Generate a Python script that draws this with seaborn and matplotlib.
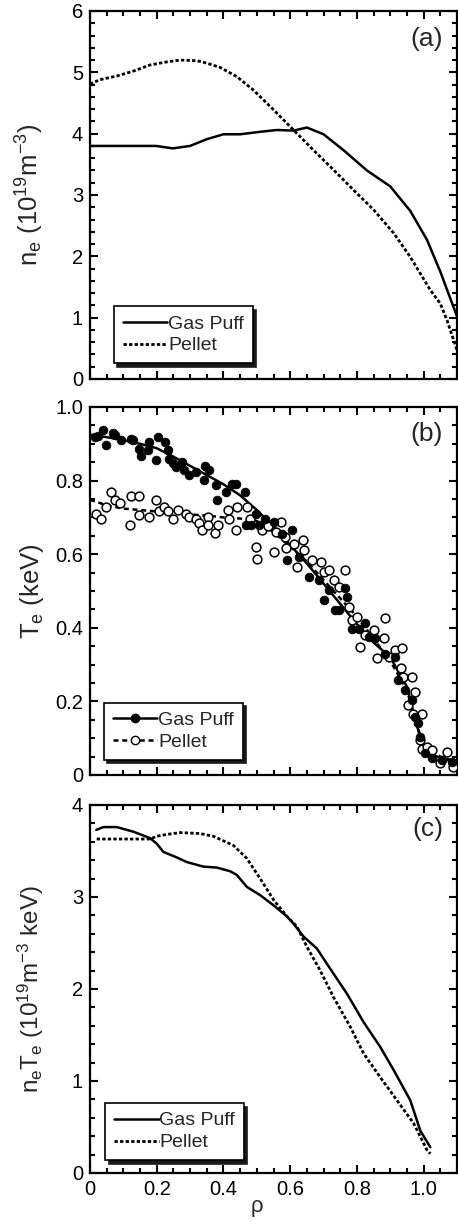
import numpy as np
import pandas as pd
import seaborn as sns
import matplotlib.pyplot as plt
from matplotlib.lines import Line2D
from matplotlib.ticker import MultipleLocator, FixedLocator

# ---- panel (a): electron density ----
rho_ne_gas = [0.0, 0.198, 0.248, 0.30, 0.35, 0.40, 0.45, 0.51, 0.56, 0.61, 0.65, 0.70,
              0.76, 0.83, 0.90, 0.96, 1.01, 1.05, 1.10]
ne_gas = [3.80, 3.80, 3.76, 3.80, 3.91, 3.99, 3.99, 4.03, 4.06, 4.05, 4.10, 3.99,
          3.73, 3.40, 3.14, 2.74, 2.27, 1.75, 1.02]
rho_ne_pel = [0.0, 0.03, 0.08, 0.13, 0.18, 0.23, 0.27, 0.32, 0.35, 0.39, 0.44, 0.49,
              0.55, 0.61, 0.67, 0.73, 0.79, 0.85, 0.91, 0.96, 1.02, 1.05, 1.07, 1.10]
ne_pel = [4.81, 4.88, 4.94, 5.02, 5.12, 5.17, 5.20, 5.19, 5.15, 5.08, 4.93, 4.71,
          4.39, 4.06, 3.73, 3.41, 3.08, 2.76, 2.38, 1.99, 1.45, 1.23, 0.96, 0.47]

# ---- panel (b): electron temperature, fits ----
rho_te_fit = [0.0, 0.05, 0.1, 0.15, 0.2, 0.25, 0.3, 0.35, 0.4, 0.45, 0.5, 0.55, 0.6,
              0.65, 0.7, 0.75, 0.8, 0.85, 0.9, 0.95, 0.975, 1.0, 1.05, 1.1]
te_gas_fit = [0.925, 0.918, 0.910, 0.900, 0.888, 0.865, 0.840, 0.815, 0.790, 0.760,
              0.720, 0.675, 0.625, 0.575, 0.520, 0.465, 0.410, 0.360, 0.320, 0.240,
              0.150, 0.070, 0.045, 0.035]
te_pel_fit = [0.748, 0.733, 0.724, 0.720, 0.716, 0.712, 0.708, 0.705, 0.700, 0.697,
              0.690, 0.660, 0.620, 0.580, 0.530, 0.480, 0.430, 0.370, 0.310, 0.230,
              0.150, 0.080, 0.050, 0.035]

# ---- panel (b): measured points ----
rho_te_gas_pts = [0.014, 0.024, 0.039, 0.047, 0.069, 0.074, 0.094, 0.123, 0.128, 0.148,
                  0.152, 0.176, 0.173, 0.203, 0.198, 0.226, 0.233, 0.238, 0.248, 0.258,
                  0.276, 0.283, 0.298, 0.317, 0.342, 0.345, 0.357, 0.377, 0.382, 0.407,
                  0.427, 0.437, 0.465, 0.467, 0.482, 0.506, 0.497, 0.526, 0.551, 0.576,
                  0.591, 0.606, 0.626, 0.656, 0.686, 0.700, 0.715, 0.735, 0.745, 0.765,
                  0.770, 0.785, 0.805, 0.825, 0.835, 0.855, 0.885, 0.914, 0.924, 0.944,
                  0.964, 0.974, 0.984, 0.989, 1.004, 1.024, 1.054, 1.084]
te_gas_pts = [0.919, 0.920, 0.938, 0.896, 0.928, 0.925, 0.909, 0.914, 0.909, 0.887,
              0.866, 0.905, 0.884, 0.919, 0.857, 0.905, 0.884, 0.860, 0.848, 0.837,
              0.851, 0.828, 0.814, 0.824, 0.801, 0.839, 0.828, 0.787, 0.747, 0.769,
              0.792, 0.790, 0.769, 0.679, 0.679, 0.679, 0.710, 0.697, 0.688, 0.656,
              0.584, 0.665, 0.593, 0.538, 0.529, 0.475, 0.502, 0.448, 0.448, 0.509,
              0.484, 0.398, 0.398, 0.412, 0.376, 0.371, 0.330, 0.321, 0.258, 0.231,
              0.204, 0.158, 0.140, 0.104, 0.059, 0.045, 0.041, 0.036]
rho_te_pel_pts = [0.017, 0.034, 0.047, 0.064, 0.074, 0.089, 0.120, 0.123, 0.148, 0.148,
                  0.176, 0.198, 0.206, 0.223, 0.233, 0.248, 0.263, 0.288, 0.298, 0.317,
                  0.327, 0.337, 0.354, 0.354, 0.375, 0.385, 0.415, 0.417, 0.439, 0.442,
                  0.472, 0.479, 0.497, 0.502, 0.516, 0.534, 0.551, 0.557, 0.571, 0.584,
                  0.588, 0.610, 0.621, 0.638, 0.641, 0.666, 0.691, 0.700, 0.715, 0.730,
                  0.745, 0.765, 0.775, 0.785, 0.800, 0.810, 0.825, 0.850, 0.860, 0.880,
                  0.885, 0.895, 0.914, 0.934, 0.932, 0.939, 0.954, 0.964, 0.974, 0.969,
                  0.994, 0.989, 0.994, 1.009, 1.024, 1.049, 1.069, 1.089]
te_pel_pts = [0.710, 0.697, 0.729, 0.769, 0.747, 0.738, 0.679, 0.757, 0.757, 0.706,
              0.701, 0.748, 0.718, 0.729, 0.718, 0.697, 0.720, 0.710, 0.701, 0.697,
              0.685, 0.667, 0.700, 0.679, 0.658, 0.679, 0.720, 0.697, 0.667, 0.727,
              0.727, 0.697, 0.620, 0.588, 0.667, 0.676, 0.606, 0.661, 0.688, 0.647,
              0.618, 0.627, 0.566, 0.638, 0.611, 0.584, 0.579, 0.552, 0.557, 0.529,
              0.511, 0.557, 0.457, 0.421, 0.430, 0.348, 0.380, 0.394, 0.317, 0.371,
              0.427, 0.321, 0.339, 0.344, 0.290, 0.267, 0.190, 0.267, 0.226, 0.167,
              0.167, 0.095, 0.072, 0.077, 0.068, 0.032, 0.063, 0.023]

# ---- panel (c): electron pressure ----
rho_p_gas = [0.019, 0.04, 0.08, 0.13, 0.18, 0.20, 0.22, 0.26, 0.29, 0.34, 0.38, 0.42,
             0.44, 0.47, 0.51, 0.55, 0.59, 0.61, 0.64, 0.68, 0.72, 0.77, 0.82, 0.87,
             0.91, 0.96, 0.99, 1.02]
p_gas = [3.73, 3.76, 3.76, 3.71, 3.64, 3.58, 3.49, 3.43, 3.38, 3.33, 3.32, 3.28,
         3.24, 3.11, 3.02, 2.91, 2.79, 2.71, 2.57, 2.44, 2.22, 1.95, 1.64, 1.37,
         1.12, 0.79, 0.46, 0.28]
rho_p_pel = [0.02, 0.18, 0.20, 0.23, 0.27, 0.33, 0.37, 0.43, 0.47, 0.51, 0.55, 0.59,
             0.62, 0.65, 0.69, 0.73, 0.78, 0.82, 0.87, 0.92, 0.97, 1.01, 1.02]
p_pel = [3.63, 3.63, 3.66, 3.68, 3.70, 3.69, 3.66, 3.56, 3.42, 3.20, 2.97, 2.79,
         2.68, 2.46, 2.20, 1.91, 1.59, 1.30, 1.04, 0.79, 0.54, 0.25, 0.21]

labels = ["Gas Puff", "Pellet"]
x_ticks = [0, 0.2, 0.4, 0.6, 0.8, 1.0]
x_ticklabels = ["0", "0.2", "0.4", "0.6", "0.8", "1.0"]

sns.set_style("ticks")
plt.rcParams['font.family'] = ['Liberation Sans', 'DejaVu Sans']
plt.rcParams['mathtext.default'] = 'regular'

fig = plt.figure(figsize=(4.58, 12.21), dpi=100)
left, width, height = 90 / 458, 367 / 458, 368 / 1221
ax_a = fig.add_axes([left, 1 - 379 / 1221, width, height])
ax_b = fig.add_axes([left, 1 - 775 / 1221, width, height])
ax_c = fig.add_axes([left, 1 - 1173 / 1221, width, height])

solid_kw = dict(color='black', lw=1.8, linestyle='-')
dot_kw = dict(color='black', lw=2.0, linestyle=(0, (1.2, 0.8)))
dash_kw = dict(color='black', lw=1.8, linestyle=(0, (2, 1.5)))

# (a)
sns.lineplot(x=rho_ne_gas, y=ne_gas, ax=ax_a, sort=False, **solid_kw)
sns.lineplot(x=rho_ne_pel, y=ne_pel, ax=ax_a, sort=False, **dot_kw)

# (b)
sns.lineplot(x=rho_te_fit, y=te_gas_fit, ax=ax_b, sort=False, **solid_kw)
sns.lineplot(x=rho_te_fit, y=te_pel_fit, ax=ax_b, sort=False, **dash_kw)
sns.scatterplot(x=rho_te_pel_pts, y=te_pel_pts, ax=ax_b, marker='o', s=40,
                facecolor='white', edgecolor='black', linewidth=1.1, zorder=3)
sns.scatterplot(x=rho_te_gas_pts, y=te_gas_pts, ax=ax_b, marker='o', s=40,
                color='black', edgecolor='black', linewidth=0.5, zorder=4)

# (c)
sns.lineplot(x=rho_p_gas, y=p_gas, ax=ax_c, sort=False, **solid_kw)
sns.lineplot(x=rho_p_pel, y=p_pel, ax=ax_c, sort=False, **dot_kw)

tick_fs = 14.5
for ax, ymax, ymaj, ymin, letter, ly in [(ax_a, 6, 1, 0.2, "(a)", 0.924),
                                        (ax_b, 1.0, 0.2, 0.05, "(b)", 0.927),
                                        (ax_c, 4, 1, 0.2, "(c)", 0.935)]:
    ax.set_xlim(0, 1.1)
    ax.set_ylim(0, ymax)
    ax.xaxis.set_major_locator(FixedLocator(x_ticks))
    ax.xaxis.set_minor_locator(MultipleLocator(0.05))
    ax.yaxis.set_major_locator(MultipleLocator(ymaj))
    ax.yaxis.set_minor_locator(MultipleLocator(ymin))
    ax.tick_params(which='both', direction='in', top=True, right=True,
                   width=1.5, colors='black', labelsize=tick_fs, pad=5)
    ax.tick_params(which='major', length=6)
    ax.tick_params(which='minor', length=3.5)
    for sp in ax.spines.values():
        sp.set_linewidth(1.6)
        sp.set_color('black')
    ax.text(0.962, ly, letter, transform=ax.transAxes, ha='right', va='center',
            fontsize=19)
    ax.set_xlabel("")

ax_a.set_xticklabels([])
ax_b.set_xticklabels([])
ax_c.set_xticklabels(x_ticklabels)
ax_b.set_yticks([0, 0.2, 0.4, 0.6, 0.8, 1.0])
ax_b.set_yticklabels(["0", "0.2", "0.4", "0.6", "0.8", "1.0"])

ax_a.set_ylabel("n$_e$ (10$^{19}$m$^{-3}$)", fontsize=18.5)
ax_b.set_ylabel("T$_e$ (keV)", fontsize=18.5)
ax_c.set_ylabel("n$_e$T$_e$ (10$^{19}$m$^{-3}$ keV)", fontsize=17.5)
for ax in (ax_a, ax_b, ax_c):
    ax.yaxis.set_label_coords(-0.12, 0.5)
ax_c.set_xlabel("ρ", fontsize=16)
ax_c.xaxis.set_label_coords(0.4545, -0.062)

leg_kw = dict(loc='lower left', fontsize=14, frameon=True, fancybox=False,
              shadow={'color': '0.1', 'alpha': 1.0, 'ox': 2.5, 'oy': -2.5},
              edgecolor='black', handlelength=2.3, handletextpad=0.05,
              borderpad=0.45, labelspacing=0.22, borderaxespad=0, framealpha=1)
h_a = [Line2D([], [], **solid_kw), Line2D([], [], **dot_kw)]
leg = ax_a.legend(h_a, labels, bbox_to_anchor=(0.065, 0.043), **leg_kw)
leg.get_frame().set_linewidth(1.2)
h_b = [Line2D([], [], marker='o', ms=6, **solid_kw),
       Line2D([], [], marker='o', ms=6, mfc='white', mec='black', **dash_kw)]
leg = ax_b.legend(h_b, labels, bbox_to_anchor=(0.038, 0.041), **leg_kw)
leg.get_frame().set_linewidth(1.2)
leg = ax_c.legend(h_a, labels, bbox_to_anchor=(0.041, 0.035), **leg_kw)
leg.get_frame().set_linewidth(1.2)

fig.savefig("out.png", dpi=100)
